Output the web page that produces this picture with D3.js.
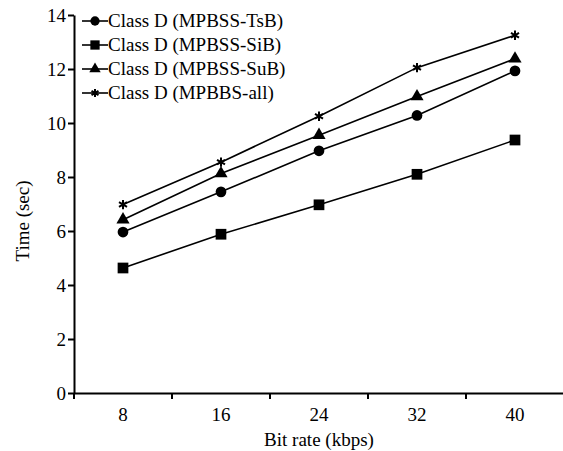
<!DOCTYPE html>
<html lang="en">
<head>
  <meta charset="UTF-8">
  <title>Time vs bit rate</title>
  <script src="https://d3js.org/d3.v7.min.js"></script>
  <style>
    body { margin: 0; background: #fff; }
    text { font-family: "Liberation Serif", "Times New Roman", serif; fill: #000; }
    .axis path, .axis line { stroke: #000; stroke-width: 2px; }
    .axis text { font-size: 19px; }
    .series { fill: none; stroke: #000; stroke-width: 1.6px; }
  </style>
</head>
<body>
<svg id="chart"></svg>
<script>
  // data
  var bitRates = ["8", "16", "24", "32", "40"];
  var seriesNames = ["Class D (MPBSS-TsB)", "Class D (MPBSS-SiB)", "Class D (MPBSS-SuB)", "Class D (MPBBS-all)"];
  var tsb = [5.96, 7.45, 8.97, 10.28, 11.93];
  var sib = [4.63, 5.88, 6.97, 8.1, 9.37];
  var sub = [6.42, 8.13, 9.55, 10.98, 12.38];
  var all = [6.98, 8.55, 10.25, 12.05, 13.25];
  var yTicks = [0, 2, 4, 6, 8, 10, 12, 14];

  var svgWidth = 563, svgHeight = 451;
  var svg = d3.select("#chart").attr("width", svgWidth).attr("height", svgHeight);

  var x = d3.scaleBand().domain(bitRates).range([74, 564]).padding(0);
  var y = d3.scaleLinear().domain([0, 14]).range([393, 15]);

  var symbols = [d3.symbolCircle, d3.symbolSquare, d3.symbolTriangle, d3.symbolAsterisk];
  var symSizes = [90, 115, 75, 60];
  var series = [tsb, sib, sub, all].map(function(v, i) {
    return { name: seriesNames[i], values: v, symbol: symbols[i], size: symSizes[i] };
  });

  function drawMarker(g, s) {
    var p = g.append("path").attr("d", d3.symbol().type(s.symbol).size(s.size)());
    if (s.symbol === d3.symbolAsterisk) {
      p.attr("fill", "none").attr("stroke", "#000").attr("stroke-width", 2);
    } else {
      p.attr("fill", "#000");
    }
    return p;
  }

  // y axis
  svg.append("g")
    .attr("class", "axis")
    .attr("transform", "translate(" + x.range()[0] + ",0)")
    .call(d3.axisLeft(y).tickValues(yTicks).tickSize(6).tickPadding(2).tickSizeOuter(0));

  // x axis (labels centred in bands, ticks on band edges)
  var xAxis = svg.append("g")
    .attr("class", "axis")
    .attr("transform", "translate(0," + y(0) + ")")
    .call(d3.axisBottom(x).tickSize(0).tickPadding(15).tickSizeOuter(0));

  xAxis.selectAll(".edge")
    .data(bitRates)
    .enter().append("line")
    .attr("class", "edge")
    .attr("x1", function(d) { return x(d); })
    .attr("x2", function(d) { return x(d); })
    .attr("y1", 0)
    .attr("y2", 6);

  // axis titles
  svg.append("text")
    .attr("x", 319).attr("y", 446)
    .attr("text-anchor", "middle")
    .attr("font-size", "19px")
    .text("Bit rate (kbps)");

  svg.append("text")
    .attr("transform", "translate(29,221) rotate(-90)")
    .attr("text-anchor", "middle")
    .attr("font-size", "19px")
    .text("Time (sec)");

  // lines + markers
  var line = d3.line()
    .x(function(d, i) { return x(bitRates[i]) + x.bandwidth() / 2; })
    .y(function(d) { return y(d); });

  series.forEach(function(s) {
    svg.append("path").attr("class", "series").attr("d", line(s.values));
    s.values.forEach(function(v, i) {
      var g = svg.append("g")
        .attr("transform", "translate(" + (x(bitRates[i]) + x.bandwidth() / 2) + "," + y(v) + ")");
      drawMarker(g, s);
    });
  });

  // legend
  var legend = svg.append("g").attr("transform", "translate(82,21)");
  series.forEach(function(s, i) {
    var row = legend.append("g").attr("transform", "translate(0," + (i * 24) + ")");
    row.append("line").attr("x1", 0).attr("x2", 26).attr("y1", 0).attr("y2", 0)
      .attr("stroke", "#000").attr("stroke-width", 1.6);
    var m = row.append("g").attr("transform", "translate(13,0)");
    drawMarker(m, { symbol: s.symbol, size: s.size * 0.75 });
    row.append("text").attr("x", 26).attr("y", 6)
      .attr("font-size", "19px")
      .text(s.name);
  });
</script>
</body>
</html>
